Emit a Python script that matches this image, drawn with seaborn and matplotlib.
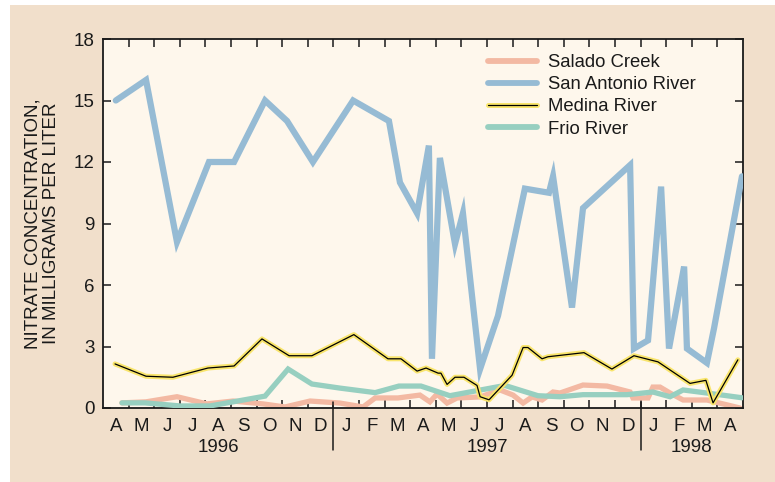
import matplotlib
matplotlib.use("Agg")
import matplotlib.pyplot as plt
import matplotlib.patheffects as pe
import matplotlib.transforms as mtransforms
import seaborn as sns
import pandas as pd

# ---- data (x = months since 1 April 1996) ----
months = ["A", "M", "J", "J", "A", "S", "O", "N", "D", "J", "F", "M", "A",
          "M", "J", "J", "A", "S", "O", "N", "D", "J", "F", "M", "A"]
years = ["1996", "1997", "1998"]
year_centers = [4.5, 15.0, 23.0]
year_breaks = [9, 21]
yticks = [0, 3, 6, 9, 12, 15, 18]

salado_x = [0.74, 1.68, 2.89, 4.06, 5.08, 6.25, 7.11, 8.09, 9.26, 10.16, 10.63, 11.52,
            12.38, 12.77, 13.05, 13.44, 13.83, 14.73, 15.51, 16.02, 16.41, 16.76, 17.15,
            17.58, 17.85, 18.75, 19.69, 20.59, 20.70, 21.29, 21.48, 21.76, 22.15, 22.66,
            23.59, 24.88]
salado_y = [0.25, 0.3, 0.55, 0.2, 0.34, 0.2, 0.05, 0.34, 0.24, 0.05, 0.49, 0.49,
            0.63, 0.3, 0.68, 0.24, 0.49, 0.54, 0.88, 0.63, 0.24, 0.54, 0.39,
            0.78, 0.73, 1.12, 1.07, 0.78, 0.49, 0.49, 1.02, 1.02, 0.73, 0.39,
            0.39, 0.0]

sanantonio_x = [0.5, 1.68, 2.89, 4.14, 5.12, 6.33, 7.19, 8.20, 9.77, 11.17, 11.60, 12.27,
                12.73, 12.85, 13.16, 13.75, 14.06, 14.73, 15.43, 16.48, 17.42, 17.58,
                18.32, 18.75, 20.59, 20.74, 21.29, 21.80, 22.11, 22.70, 22.81, 23.59,
                23.87, 24.96]
sanantonio_y = [15.0, 16.0, 8.1, 12.0, 12.0, 15.0, 14.0, 12.0, 15.0, 14.0, 11.0, 9.5,
                12.8, 2.4, 12.2, 8.0, 9.5, 1.9, 4.5, 10.7, 10.5, 11.3,
                4.9, 9.75, 11.85, 2.9, 3.3, 10.8, 2.9, 6.9, 2.9, 2.2,
                3.9, 11.3]

medina_x = [0.47, 1.68, 2.73, 4.10, 5.12, 6.21, 7.27, 8.16, 9.80, 11.13, 11.64, 12.27,
            12.62, 13.09, 13.20, 13.44, 13.75, 14.10, 14.61, 14.73, 15.08, 15.98, 16.41,
            16.60, 17.15, 17.38, 18.79, 19.88, 20.74, 21.68, 22.93, 23.55, 23.83, 24.80]
medina_y = [2.15, 1.55, 1.5, 1.95, 2.05, 3.37, 2.55, 2.55, 3.58, 2.4, 2.4, 1.8,
            1.95, 1.7, 1.7, 1.15, 1.5, 1.5, 1.1, 0.55, 0.4, 1.6, 2.95,
            2.95, 2.4, 2.5, 2.7, 1.9, 2.55, 2.25, 1.2, 1.35, 0.25, 2.35]

frio_x = [0.74, 1.64, 3.01, 4.18, 5.08, 6.33, 7.23, 8.16, 9.26, 10.63, 11.56, 12.42,
          13.55, 15.70, 16.99, 17.85, 18.75, 20.47, 21.48, 22.15, 22.66, 23.59, 24.96]
frio_y = [0.25, 0.25, 0.1, 0.1, 0.3, 0.58, 1.9, 1.17, 0.97, 0.75, 1.07, 1.07,
          0.6, 1.1, 0.6, 0.55, 0.65, 0.65, 0.78, 0.55, 0.88, 0.73, 0.5]

# ---- styling ----
sns.set_theme(style="ticks")
plt.rcParams["font.family"] = ["Liberation Sans", "DejaVu Sans"]

BG = "#f1dfcb"
FACE = "#fef7ec"
C_SAL = "#f3b9a3"
C_SA = "#96bbd4"
C_FRIO = "#97cfc0"
C_YEL = "#f9e56c"
INK = "#1a1a1a"

fig = plt.figure(figsize=(7.75, 4.82), dpi=100, facecolor="white")
fig.patches.append(plt.Rectangle((10 / 775, 0), 1, 1 - 5 / 482, transform=fig.transFigure,
                                 facecolor=BG, edgecolor="none", zorder=-10))
ax = fig.add_axes([103 / 775, 1 - 408 / 482, 640 / 775, 369 / 482])
ax.set_facecolor(FACE)

df_sal = pd.DataFrame({"x": salado_x, "y": salado_y})
df_sa = pd.DataFrame({"x": sanantonio_x, "y": sanantonio_y})
df_med = pd.DataFrame({"x": medina_x, "y": medina_y})
df_frio = pd.DataFrame({"x": frio_x, "y": frio_y})

sns.lineplot(data=df_sal, x="x", y="y", ax=ax, color=C_SAL, lw=3.8, sort=False,
             label="Salado Creek", solid_joinstyle="miter", zorder=2)
sns.lineplot(data=df_sa, x="x", y="y", ax=ax, color=C_SA, lw=4.5, sort=False,
             label="San Antonio River", solid_joinstyle="miter", zorder=4)
sns.lineplot(data=df_med, x="x", y="y", ax=ax, color="black", lw=0.9, sort=False,
             label="Medina River", zorder=5,
             path_effects=[pe.Stroke(linewidth=3.6, foreground=C_YEL), pe.Normal()])
sns.lineplot(data=df_frio, x="x", y="y", ax=ax, color=C_FRIO, lw=3.8, sort=False,
             label="Frio River", solid_joinstyle="miter", zorder=3)

ax.set_xlim(0, 25)
ax.set_ylim(0, 18)
ax.set_xlabel("")
ax.set_ylabel("NITRATE CONCENTRATION,\nIN MILLIGRAMS PER LITER", fontsize=13.5,
              linespacing=1.1, labelpad=10, color=INK)

ax.set_yticks(yticks)
ax.set_yticklabels([str(v) for v in yticks], fontsize=13.5, color=INK)
ax.set_xticks(list(range(1, 25)))
ax.set_xticklabels([])
ax.set_xticks([i + 0.5 for i in range(25)], minor=True)
ax.set_xticklabels(months, minor=True, fontsize=13.5, color=INK)
ax.tick_params(axis="x", which="major", direction="in", length=6, width=1.1,
               top=True, bottom=True, color=INK)
ax.tick_params(axis="x", which="minor", length=0, pad=7)
ax.tick_params(axis="y", which="major", direction="in", length=6, width=1.1,
               left=True, right=True, color=INK, pad=6)
for s in ax.spines.values():
    s.set_linewidth(1.3)
    s.set_color(INK)

trans = mtransforms.blended_transform_factory(ax.transData, ax.transAxes)
for xb in year_breaks:
    ax.plot([xb, xb], [0.016, -0.114], transform=trans, color=INK, lw=1.1,
            clip_on=False)
for xc, yl in zip(year_centers, years):
    ax.text(xc, -0.108, yl, transform=trans, ha="center", va="center",
            fontsize=13.5, color=INK)

leg = ax.legend(loc="upper left", bbox_to_anchor=(488 / 775, 1 - 54 / 482),
                bbox_transform=fig.transFigure, frameon=False, fontsize=13.3,
                handlelength=2.65, handletextpad=0.6, labelspacing=0.28,
                borderpad=0, borderaxespad=0)
for t in leg.get_texts():
    t.set_color(INK)
for h in leg.get_lines():
    if h.get_color() != "black":
        h.set_linewidth(4.2)

fig.savefig("out.png", dpi=100, facecolor=fig.get_facecolor())
